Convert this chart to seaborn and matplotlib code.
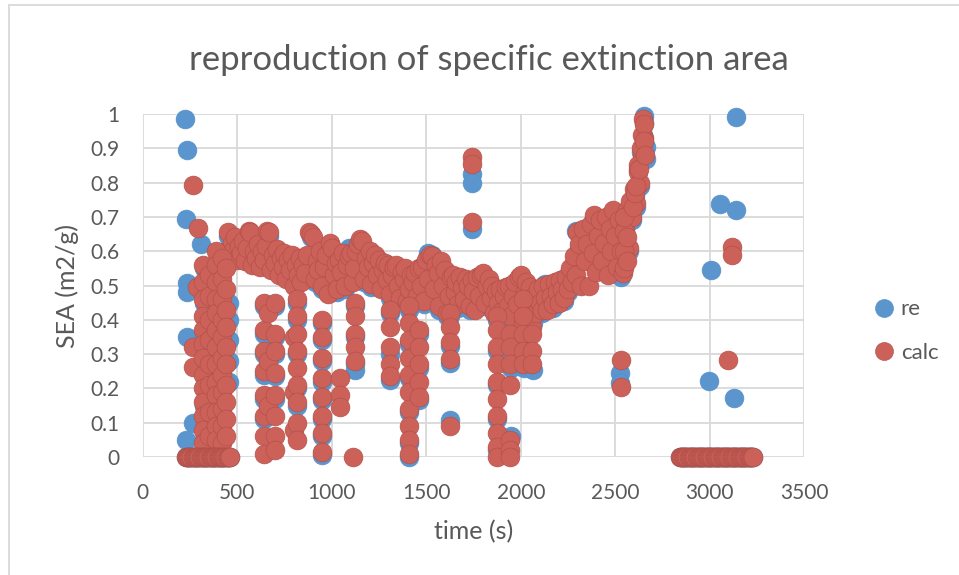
import numpy as np
import pandas as pd
import matplotlib
matplotlib.use("Agg")
import matplotlib.pyplot as plt
from matplotlib.lines import Line2D
import seaborn as sns

# ---------------- calc series ----------------
# main band, one reading every 10 s from 440 s to 2650 s
calc_band_t = np.arange(440, 2660, 10)
calc_band_v = [
    0.60, 0.655, 0.58, 0.625, 0.60, 0.64, 0.575, 0.615, 0.595, 0.63,
    0.57, 0.61, 0.66, 0.655, 0.56, 0.60, 0.58, 0.62, 0.555, 0.60,
    0.575, 0.615, 0.66, 0.655, 0.545, 0.59, 0.565, 0.605, 0.53, 0.58,
    0.555, 0.595, 0.52, 0.575, 0.545, 0.59, 0.50, 0.56, 0.53, 0.58,
    0.51, 0.56, 0.535, 0.59, 0.655, 0.65, 0.64, 0.52, 0.57, 0.545,
    0.60, 0.50, 0.555, 0.59, 0.475, 0.625, 0.61, 0.53, 0.565, 0.49,
    0.575, 0.54, 0.595, 0.50, 0.56, 0.585, 0.595, 0.51, 0.55, 0.60,
    0.62, 0.635, 0.63, 0.52, 0.58, 0.555, 0.60, 0.505, 0.565, 0.59,
    0.53, 0.575, 0.49, 0.545, 0.565, 0.515, 0.56, 0.475, 0.53, 0.555,
    0.56, 0.50, 0.465, 0.54, 0.52, 0.55, 0.455, 0.49, 0.53, 0.51,
    0.535, 0.47, 0.55, 0.50, 0.555, 0.455, 0.575, 0.52, 0.59, 0.585,
    0.49, 0.56, 0.535, 0.44, 0.57, 0.50, 0.545, 0.42, 0.47, 0.525,
    0.53, 0.48, 0.51, 0.445, 0.525, 0.495, 0.46, 0.52, 0.50, 0.44,
    0.515, 0.485, 0.43, 0.525, 0.47, 0.53, 0.535, 0.45, 0.50, 0.52,
    0.465, 0.50, 0.42, 0.485, 0.45, 0.49, 0.425, 0.47, 0.495, 0.44,
    0.50, 0.41, 0.47, 0.51, 0.445, 0.525, 0.53, 0.39, 0.48, 0.51,
    0.44, 0.495, 0.38, 0.47, 0.42, 0.49, 0.45, 0.43, 0.50, 0.465,
    0.43, 0.505, 0.47, 0.445, 0.51, 0.48, 0.45, 0.515, 0.49, 0.465,
    0.525, 0.49, 0.55, 0.51, 0.585, 0.53, 0.655, 0.62, 0.50, 0.665,
    0.57, 0.62, 0.50, 0.68, 0.595, 0.705, 0.54, 0.645, 0.69, 0.57,
    0.625, 0.70, 0.53, 0.665, 0.60, 0.72, 0.645, 0.555, 0.69, 0.60,
    0.535, 0.665, 0.72, 0.61, 0.745, 0.70, 0.78, 0.74, 0.83, 0.80,
    0.88, 0.93,
]

# steep rise at the end of the run
calc_rise_t = [2545, 2545, 2545, 2545, 2560, 2560, 2596, 2604, 2612, 2618,
               2626, 2634, 2642, 2646, 2650, 2654, 2658]
calc_rise_v = [0.55, 0.60, 0.66, 0.70, 0.57, 0.64, 0.73, 0.77, 0.79, 0.85,
               0.84, 0.90, 0.94, 0.985, 0.97, 0.92, 0.88]

# vertical drop-outs and isolated readings
calc_drop_t = (
    [264, 294, 286, 268, 268]
    + [320] * 13 + [352] * 8 + [386] * 13 + [418] * 11 + [440] * 10
    + [640] * 8 + [665] * 3 + [700] * 8 + [800] * 3 + [815] * 9
    + [947] * 8 + [1044] * 3 + [1114] + [1125] * 5 + [1308] * 5
    + [1410] * 10 + [1460] * 5 + [1626] * 5 + [1740] * 3 + [1873] * 10
    + [1943] * 7 + [2010] * 5 + [2060] * 3 + [2530] * 2 + [3098] + [3119] * 2
)
calc_drop_v = (
    [0.793, 0.667, 0.497, 0.32, 0.263]
    + [0.56, 0.51, 0.46, 0.41, 0.37, 0.33, 0.29, 0.24, 0.20, 0.16, 0.12, 0.08, 0.04]
    + [0.53, 0.47, 0.40, 0.34, 0.27, 0.21, 0.13, 0.06]
    + [0.60, 0.56, 0.51, 0.46, 0.42, 0.37, 0.32, 0.27, 0.22, 0.18, 0.13, 0.09, 0.05]
    + [0.58, 0.52, 0.46, 0.40, 0.35, 0.29, 0.24, 0.19, 0.14, 0.09, 0.04]
    + [0.55, 0.49, 0.43, 0.38, 0.32, 0.27, 0.21, 0.16, 0.11, 0.06]
    + [0.45, 0.37, 0.31, 0.25, 0.18, 0.12, 0.06, 0.01]
    + [0.42, 0.28, 0.15]
    + [0.45, 0.36, 0.31, 0.245, 0.18, 0.12, 0.06, 0.02]
    + [0.35, 0.19, 0.08]
    + [0.46, 0.41, 0.36, 0.31, 0.26, 0.21, 0.16, 0.10, 0.05]
    + [0.40, 0.35, 0.29, 0.23, 0.175, 0.12, 0.07, 0.015]
    + [0.23, 0.18, 0.145]
    + [0.0]
    + [0.45, 0.41, 0.36, 0.32, 0.28]
    + [0.43, 0.38, 0.32, 0.27, 0.235]
    + [0.44, 0.39, 0.34, 0.29, 0.24, 0.19, 0.14, 0.09, 0.05, 0.01]
    + [0.37, 0.32, 0.27, 0.22, 0.175]
    + [0.42, 0.38, 0.335, 0.285, 0.09]
    + [0.875, 0.855, 0.686]
    + [0.41, 0.37, 0.32, 0.27, 0.22, 0.17, 0.12, 0.07, 0.03, 0.0]
    + [0.36, 0.32, 0.27, 0.21, 0.05, 0.02, 0.0]
    + [0.46, 0.41, 0.36, 0.31, 0.27]
    + [0.36, 0.31, 0.27]
    + [0.283, 0.205]
    + [0.283]
    + [0.613, 0.589]
)

# readings sitting at zero (start of the test and after burn-out)
zero_t_start = np.arange(228, 466, 6)
zero_t_end = np.arange(2840, 3236, 6)

# ---------------- re series ----------------
re_band_t = np.arange(450, 2660, 20)
re_band_v = [
    0.645, 0.615, 0.63, 0.605, 0.62, 0.60, 0.645, 0.59, 0.61, 0.59,
    0.605, 0.645, 0.58, 0.595, 0.57, 0.585, 0.565, 0.58, 0.55, 0.57,
    0.55, 0.58, 0.64, 0.51, 0.535, 0.49, 0.58, 0.615, 0.52, 0.48,
    0.53, 0.49, 0.61, 0.605, 0.59, 0.625, 0.51, 0.545, 0.495, 0.58,
    0.565, 0.535, 0.505, 0.465, 0.545, 0.49, 0.53, 0.54, 0.48, 0.50,
    0.46, 0.49, 0.445, 0.595, 0.59, 0.55, 0.43, 0.49, 0.41, 0.515,
    0.47, 0.435, 0.485, 0.51, 0.43, 0.475, 0.515, 0.52, 0.44, 0.51,
    0.49, 0.475, 0.48, 0.46, 0.43, 0.40, 0.50, 0.515, 0.38, 0.50,
    0.485, 0.46, 0.48, 0.42, 0.505, 0.495, 0.435, 0.47, 0.505, 0.455,
    0.48, 0.50, 0.66, 0.61, 0.655, 0.61, 0.67, 0.695, 0.635, 0.56,
    0.69, 0.655, 0.71, 0.545, 0.525, 0.655, 0.60, 0.69, 0.73, 0.79,
    0.995,
]

re_rise_t = [2604, 2618, 2634, 2646, 2652, 2660, 2660]
re_rise_v = [0.76, 0.84, 0.89, 0.94, 0.975, 0.905, 0.87]

re_drop_t = (
    [224, 233, 227, 308, 233, 233, 233, 268, 229]
    + [322] * 6 + [455] * 5 + [640] * 6 + [700] * 5 + [815] * 5
    + [947] * 8 + [1125] * 4 + [1308] * 3 + [1410] * 6 + [1460] * 3
    + [1626] * 4 + [1740] * 3 + [1873] * 5 + [1950] * 3 + [2015] * 3
    + [2066] * 2 + [2525] * 2 + [2994, 3006, 3054, 3130, 3139, 3139]
)
re_drop_v = (
    [0.985, 0.895, 0.694, 0.62, 0.506, 0.48, 0.351, 0.098, 0.05]
    + [0.55, 0.45, 0.35, 0.25, 0.15, 0.05]
    + [0.45, 0.40, 0.34, 0.28, 0.22]
    + [0.44, 0.36, 0.30, 0.24, 0.17, 0.11]
    + [0.44, 0.35, 0.30, 0.235, 0.17]
    + [0.45, 0.40, 0.30, 0.20, 0.15]
    + [0.39, 0.34, 0.28, 0.22, 0.165, 0.11, 0.06, 0.005]
    + [0.44, 0.35, 0.27, 0.254]
    + [0.42, 0.30, 0.225]
    + [0.43, 0.33, 0.23, 0.13, 0.04, 0.0]
    + [0.36, 0.26, 0.165]
    + [0.41, 0.325, 0.275, 0.107]
    + [0.825, 0.80, 0.665]
    + [0.40, 0.31, 0.21, 0.11, 0.02]
    + [0.35, 0.26, 0.06]
    + [0.45, 0.34, 0.26]
    + [0.39, 0.254]
    + [0.244, 0.215]
    + [0.222, 0.545, 0.738, 0.171, 0.992, 0.72]
)

x_ticks = [0, 500, 1000, 1500, 2000, 2500, 3000, 3500]
y_ticks = [0, 0.1, 0.2, 0.3, 0.4, 0.5, 0.6, 0.7, 0.8, 0.9, 1]
y_tick_labels = ["0", "0.1", "0.2", "0.3", "0.4", "0.5", "0.6", "0.7", "0.8", "0.9", "1"]

# ---------------- assemble ----------------
calc = pd.DataFrame({
    "time": np.concatenate([calc_band_t, calc_rise_t, calc_drop_t, zero_t_start, zero_t_end]),
    "SEA": np.concatenate([calc_band_v, calc_rise_v, calc_drop_v,
                           np.zeros(len(zero_t_start)), np.zeros(len(zero_t_end))]),
})
re = pd.DataFrame({
    "time": np.concatenate([re_band_t, re_rise_t, re_drop_t, zero_t_start, zero_t_end]),
    "SEA": np.concatenate([re_band_v, re_rise_v, re_drop_v,
                           np.zeros(len(zero_t_start)), np.zeros(len(zero_t_end))]),
})

sns.set_theme(style="whitegrid")
plt.rcParams["font.family"] = ["Lato", "DejaVu Sans"]

BLUE, BLUE_EDGE = "#5B95CD", "#5690C8"
RED, RED_EDGE = "#CB6159", "#AE4E47"
TEXT = "#595959"
GRID = "#D9D9D9"

W, H = 959, 575
fig = plt.figure(figsize=(W / 100, H / 100), dpi=100)
ax = fig.add_axes([142.7 / W, 1 - 457 / H, (804.3 - 142.7) / W, (457 - 114) / H])

sns.scatterplot(data=re, x="time", y="SEA", ax=ax, color=BLUE, edgecolor=BLUE_EDGE,
                linewidth=0.4, s=185, clip_on=False, zorder=3, legend=False)
sns.scatterplot(data=calc, x="time", y="SEA", ax=ax, color=RED, edgecolor=RED_EDGE,
                linewidth=0.4, s=185, clip_on=False, zorder=4, legend=False)

ax.set_xlim(0, 3500)
ax.set_ylim(0, 1)
ax.set_xticks(x_ticks)
ax.set_yticks(y_ticks)
ax.set_yticklabels(y_tick_labels)
ax.grid(True, color=GRID, linewidth=1.3)
for sp in ax.spines.values():
    sp.set_visible(False)
ax.tick_params(axis="both", length=0, labelsize=15, labelcolor=TEXT)
ax.tick_params(axis="y", pad=17)
ax.tick_params(axis="x", pad=19)
ax.set_xlabel("time (s)", fontsize=18, color=TEXT, labelpad=12)
ax.set_ylabel("SEA (m2/g)", fontsize=18, color=TEXT, labelpad=8)

fig.text(489 / W, 1 - 60 / H, "reproduction of specific extinction area",
         ha="center", va="center", fontsize=25, color=TEXT)

handles = [
    Line2D([], [], linestyle="none", marker="o", markersize=13,
           markerfacecolor=BLUE, markeredgecolor=BLUE_EDGE, markeredgewidth=0.4),
    Line2D([], [], linestyle="none", marker="o", markersize=13,
           markerfacecolor=RED, markeredgecolor=RED_EDGE, markeredgewidth=0.4),
]
fig.legend(handles, ["re", "calc"], loc="center left",
           bbox_to_anchor=(874 / W, 1 - 331 / H), frameon=False,
           fontsize=16, labelcolor=TEXT, handlelength=0.9, handletextpad=0.3,
           labelspacing=1.05, borderpad=0, borderaxespad=0)

# chart area outline
fig.add_artist(Line2D([9 / W, 9 / W], [0, 1 - 5 / H], color=GRID, linewidth=1.3,
                      transform=fig.transFigure))
fig.add_artist(Line2D([9 / W, 1], [1 - 5 / H, 1 - 5 / H], color=GRID, linewidth=1.3,
                      transform=fig.transFigure))

fig.savefig("out.png", dpi=100, facecolor="white")
